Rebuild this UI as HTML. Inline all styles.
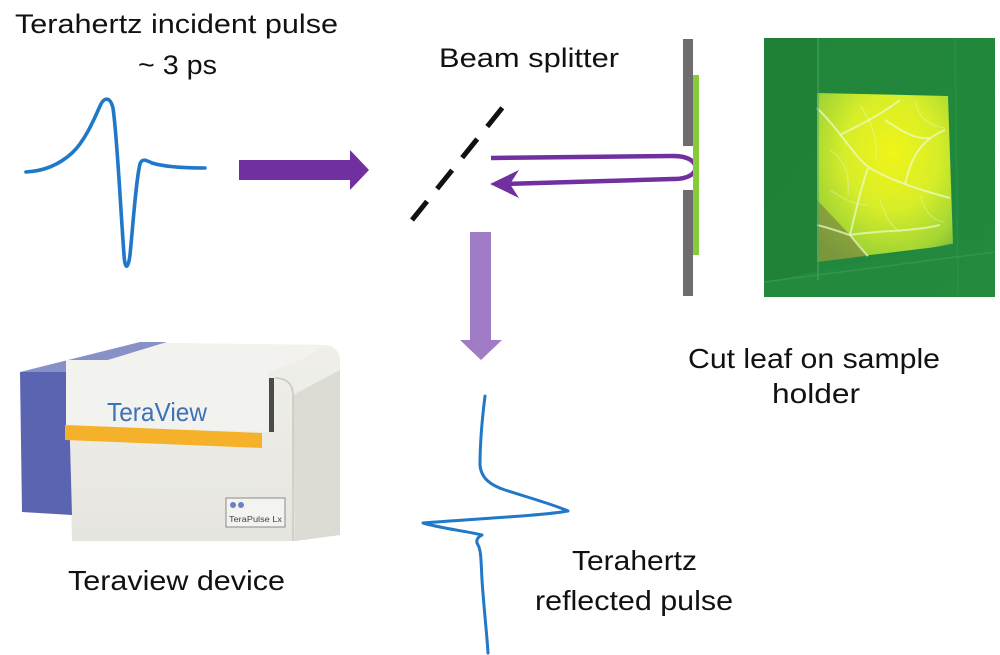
<!DOCTYPE html>
<html>
<head>
<meta charset="utf-8">
<style>
  html,body{margin:0;padding:0;background:#fff;}
  svg{display:block;}
  text{font-family:"Liberation Sans",sans-serif;fill:#111;}
</style>
</head>
<body>
<svg width="1000" height="655" viewBox="0 0 1000 655" xmlns="http://www.w3.org/2000/svg">
  <defs>
    <radialGradient id="leafg" cx="0.55" cy="0.35" r="0.75">
      <stop offset="0" stop-color="#f0f418"/>
      <stop offset="0.45" stop-color="#d8ee28"/>
      <stop offset="0.8" stop-color="#a4d634"/>
      <stop offset="1" stop-color="#74b838"/>
    </radialGradient>
    <linearGradient id="bgg" x1="0" y1="0" x2="1" y2="1">
      <stop offset="0" stop-color="#23853a"/>
      <stop offset="1" stop-color="#1f8a3e"/>
    </linearGradient>
    <linearGradient id="bodyg" x1="0" y1="0" x2="0" y2="1">
      <stop offset="0" stop-color="#f0efea"/>
      <stop offset="1" stop-color="#e6e5df"/>
    </linearGradient>
  </defs>

  <!-- Texts -->
  <text x="15" y="33" font-size="27" textLength="323" lengthAdjust="spacingAndGlyphs">Terahertz incident pulse</text>
  <text x="138" y="74" font-size="27" textLength="79" lengthAdjust="spacingAndGlyphs">~ 3 ps</text>
  <text x="439" y="67" font-size="27" textLength="180" lengthAdjust="spacingAndGlyphs">Beam splitter</text>
  <text x="688" y="368" font-size="28" textLength="252" lengthAdjust="spacingAndGlyphs">Cut leaf on sample</text>
  <text x="772" y="403" font-size="28" textLength="88" lengthAdjust="spacingAndGlyphs">holder</text>
  <text x="68" y="590" font-size="28" textLength="217" lengthAdjust="spacingAndGlyphs">Teraview device</text>
  <text x="572" y="570" font-size="28" textLength="125" lengthAdjust="spacingAndGlyphs">Terahertz</text>
  <text x="535" y="610" font-size="28" textLength="198" lengthAdjust="spacingAndGlyphs">reflected pulse</text>

  <!-- Incident pulse -->
  <path d="M26,172 C45,171 60,164 72,153 C84,142 93,122 100,106 C104,97 110,96 113,108 C117,135 120,200 124,255 C125,270 128,270 130,255 C133,225 136,180 140,164 C142,158 146,160 152,163 C165,167 185,168 205,168"
        fill="none" stroke="#2178c8" stroke-width="3.6" stroke-linecap="round" stroke-linejoin="round"/>

  <!-- Purple right arrow -->
  <polygon points="239,160 350,160 350,150 369,170 350,190 350,180 239,180" fill="#7030a0"/>

  <!-- Beam splitter dashes -->
  <line x1="412" y1="220" x2="503" y2="107" stroke="#111" stroke-width="5" stroke-dasharray="24 16"/>

  <!-- Curved arrow -->
  <path d="M491,158 L672,156 C703,155 704,180 672,179 L505,184" fill="none" stroke="#7030a0" stroke-width="4.5"/>
  <path d="M490,184 L519,170 L510,184 L519,198 Z" fill="#7030a0"/>

  <!-- Sample holder -->
  <rect x="683" y="39" width="10" height="107" fill="#6e6c6e"/>
  <rect x="683" y="190" width="10" height="106" fill="#6e6c6e"/>
  <rect x="693" y="75" width="6" height="180" fill="#86cc3a"/>

  <!-- Light purple down arrow -->
  <polygon points="470,232 491,232 491,340 502,340 481,360 460,340 470,340" fill="#a07cc6"/>

  <!-- Leaf photo -->
  <rect x="764" y="38" width="231" height="259" fill="url(#bgg)"/>
  <rect x="764" y="38" width="54" height="259" fill="#1f7d36" opacity="0.6"/>
  <polygon points="817,93 948,96 953,245 870,255 817,262" fill="url(#leafg)"/>
  <polygon points="817,200 850,235 868,256 817,262" fill="#7c8a3e" opacity="0.7"/>
  <g fill="none" stroke="#f0fbcf" stroke-opacity="0.7" stroke-width="2">
    <path d="M817,108 C840,130 855,158 870,168 C890,180 920,190 950,198"/>
    <path d="M868,168 C860,190 855,215 850,235 C858,245 864,252 868,256"/>
    <path d="M840,135 C860,125 880,115 900,100"/>
    <path d="M905,185 C910,160 920,140 945,130"/>
    <path d="M885,120 C900,130 915,140 930,138"/>
    <path d="M850,235 C880,230 910,232 940,225"/>
    <path d="M817,225 C830,228 840,232 850,235"/>
  </g>
  <g fill="none" stroke="#f0fbcf" stroke-opacity="0.35" stroke-width="1.3">
    <path d="M830,150 C845,160 850,175 848,195"/>
    <path d="M880,200 C885,215 890,225 900,232"/>
    <path d="M920,195 C925,210 930,220 945,222"/>
    <path d="M860,105 C870,120 880,140 875,160"/>
    <path d="M915,100 C918,115 925,125 945,128"/>
    <path d="M830,190 C845,200 855,205 868,205"/>
  </g>
  <polygon points="764,282 950,244 995,240 995,297 764,297" fill="#238a3e" opacity="0.9"/>
  <line x1="818" y1="38" x2="818" y2="280" stroke="#4aa860" stroke-width="1.5" opacity="0.7"/>
  <line x1="764" y1="282" x2="995" y2="252" stroke="#3e9a52" stroke-width="1.5" opacity="0.7"/>
  <line x1="955" y1="38" x2="958" y2="297" stroke="#2e9648" stroke-width="1.5" opacity="0.6"/>

  <!-- Teraview device -->
  <path d="M68,372 L165,343 L326,345 Q340,347 340,362 L340,535 L295,541 L72,541 Z" fill="url(#bodyg)"/>
  <path d="M293,395 L340,370 L340,535 L295,541 Z" fill="#dcdbd4"/>
  <path d="M275,378 Q293,378 293,396 L293,541" fill="none" stroke="#c9c8c1" stroke-width="1.5"/>
  <polygon points="68,372 165,343 326,345 300,360 268,372" fill="#f3f2ee"/>
  <polygon points="20,372 68,372 72,515 22,512" fill="#5a64b0"/>
  <polygon points="20,372 68,372 167,342 140,342" fill="#8890c8"/>
  <polygon points="66,360 268,360 270,432 66,426" fill="#f2f2ee"/>
  <rect x="269" y="378" width="5" height="54" fill="#4a4a4a"/>
  <text x="107" y="421" font-size="26" textLength="100" lengthAdjust="spacingAndGlyphs" style="fill:#3d72b6">TeraView</text>
  <polygon points="65,425 262,433 262,448 65,440" fill="#f5b12a"/>
  <rect x="226" y="498" width="59" height="29" fill="#f3f3ef" stroke="#8a8a8a" stroke-width="1"/>
  <circle cx="233" cy="505" r="3" fill="#6a80c8"/>
  <circle cx="241" cy="505" r="3" fill="#6a80c8"/>
  <text x="229" y="522" font-size="8" textLength="53" lengthAdjust="spacingAndGlyphs" style="fill:#444">TeraPulse Lx</text>

  <!-- Reflected pulse -->
  <path d="M485,396 C482,420 480,440 480,465 C481,478 490,485 505,490 C530,498 555,505 568,511 C540,516 470,519 423,523 C440,528 465,531 482,535 C476,538 476,542 478,545 C481,550 481,560 482,580 C484,610 487,635 488,653"
        fill="none" stroke="#2178c8" stroke-width="3" stroke-linecap="round" stroke-linejoin="round"/>
</svg>
</body>
</html>
